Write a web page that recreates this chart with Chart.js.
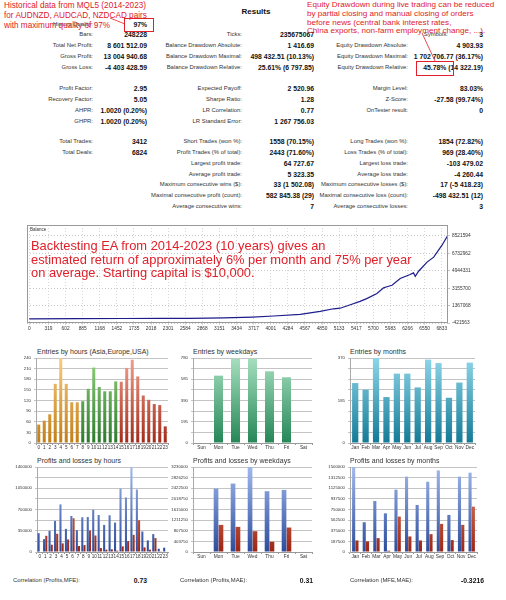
<!DOCTYPE html>
<html>
<head>
<meta charset="utf-8">
<script src="https://cdn.jsdelivr.net/npm/chart.js@4.4.0/dist/chart.umd.min.js"></script>
<style>
  body { margin: 0; width: 506px; height: 600px; background: #fff; position: relative; overflow: hidden;
         font-family: "Liberation Sans", Arial, sans-serif; }
  .t { position: absolute; white-space: nowrap; line-height: 1; font-size: 5.9px; color: #333; }
  .r { transform: translate(-100%, -50%); }
  .l { transform: translate(0, -50%); }
  .v { font-weight: bold; color: #111; font-size: 6.8px; }
  .note { position: absolute; white-space: nowrap; color: #e0202a; font-family: Arial, "Liberation Sans", sans-serif; }
  .box { position: absolute; border: 1px solid #e0202a; }
  .ttl { position: absolute; font-size: 7px; color: #333; white-space: nowrap; }
  canvas { position: absolute; }
</style>
</head>
<body>

<div class="t v" style="left:256px;top:12px;transform:translate(-50%,-50%);font-size:8px">Results</div>
<div id="table"></div>

<!-- annotations -->
<div class="note" style="left:4px;top:1px;font-size:8.2px;line-height:10px">Historical data from MQL5 (2014-2023)<br>for AUDNZD, AUDCAD, NZDCAD pairs<br>with maximum quality of 97%</div>
<div class="box" style="left:124px;top:18px;width:28px;height:12px"></div>
<div class="note" style="left:307px;top:1px;font-size:8.1px;line-height:8.8px">Equity Drawdown during live trading can be reduced<br>by partial closing and manual closing of orders<br>before news (central bank interest rates,<br>China exports, non-farm employment change, ...).</div>
<div class="box" style="left:416px;top:61px;width:36px;height:13px"></div>
<svg style="position:absolute;left:0;top:0" width="506" height="100">
  <line x1="110" y1="18" x2="125" y2="24" stroke="#e0202a" stroke-width="0.8"/>
  <line x1="422" y1="33" x2="435" y2="61" stroke="#e0202a" stroke-width="0.8"/>
</svg>

<!-- balance -->
<canvas id="balance" width="462" height="110" style="left:27px;top:225px"></canvas>
<div class="ttl" style="left:30px;top:227px;font-size:4.5px">Balance</div>
<div class="note" style="left:31px;top:239px;font-size:12.9px;line-height:13.6px">Backtesting EA from 2014-2023 (10 years) gives an<br>estimated return of approximately 6% per month and 75% per year<br>on average. Starting capital is $10,000.</div>

<!-- entries -->
<div class="ttl" style="left:37px;top:348px">Entries by hours (Asia,Europe,USA)</div>
<canvas id="entHours" width="162" height="98" style="left:10px;top:355px"></canvas>
<div class="ttl" style="left:193px;top:348px">Entries by weekdays</div>
<canvas id="entDays" width="152" height="98" style="left:165px;top:355px"></canvas>
<div class="ttl" style="left:350px;top:348px">Entries by months</div>
<canvas id="entMonths" width="155" height="98" style="left:325px;top:355px"></canvas>

<!-- profits and losses -->
<div class="ttl" style="left:37px;top:457px">Profits and losses by hours</div>
<canvas id="plHours" width="168" height="98" style="left:5px;top:464px"></canvas>
<div class="ttl" style="left:193px;top:457px">Profits and losses by weekdays</div>
<canvas id="plDays" width="157" height="98" style="left:160px;top:464px"></canvas>
<div class="ttl" style="left:350px;top:457px">Profits and losses by months</div>
<canvas id="plMonths" width="164" height="98" style="left:318px;top:464px"></canvas>

<div class="t l" style="left:13px;top:581px">Correlation (Profits,MFE):</div>
<div class="t r v" style="left:147px;top:581px">0.73</div>
<div class="t l" style="left:180px;top:581px">Correlation (Profits,MAE):</div>
<div class="t r v" style="left:313px;top:581px">0.31</div>
<div class="t l" style="left:350px;top:581px">Correlation (MFE,MAE):</div>
<div class="t r v" style="left:484px;top:581px">-0.3216</div>

<script>
// ---------- report table ----------
const col1 = [
  ["History Quality:", "97%"], ["Bars:", "248228"], ["Total Net Profit:", "8 601 512.09"],
  ["Gross Profit:", "13 004 940.68"], ["Gross Loss:", "-4 403 428.59"],
  ["Profit Factor:", "2.95"], ["Recovery Factor:", "5.05"], ["AHPR:", "1.0020 (0.20%)"],
  ["GHPR:", "1.0020 (0.20%)"], ["Total Trades:", "3412"], ["Total Deals:", "6824"],
  null, null, null, null, null
];
const col2 = [
  null, ["Ticks:", "235675067"], ["Balance Drawdown Absolute:", "1 416.69"],
  ["Balance Drawdown Maximal:", "498 432.51 (10.13%)"], ["Balance Drawdown Relative:", "25.61% (6 797.85)"],
  ["Expected Payoff:", "2 520.96"], ["Sharpe Ratio:", "1.28"], ["LR Correlation:", "0.77"],
  ["LR Standard Error:", "1 267 756.03"], ["Short Trades (won %):", "1558 (70.15%)"],
  ["Profit Trades (% of total):", "2443 (71.60%)"], ["Largest profit trade:", "64 727.67"],
  ["Average profit trade:", "5 323.35"], ["Maximum consecutive wins ($):", "33 (1 502.08)"],
  ["Maximal consecutive profit (count):", "582 845.38 (29)"], ["Average consecutive wins:", "7"]
];
const col3 = [
  null, ["Symbols:", "3"], ["Equity Drawdown Absolute:", "4 903.93"],
  ["Equity Drawdown Maximal:", "1 702 706.77 (36.17%)"], ["Equity Drawdown Relative:", "45.78% (14 322.19)"],
  ["Margin Level:", "83.03%"], ["Z-Score:", "-27.58 (99.74%)"], ["OnTester result:", "0"],
  null, ["Long Trades (won %):", "1854 (72.82%)"], ["Loss Trades (% of total):", "969 (28.40%)"],
  ["Largest loss trade:", "-103 479.02"], ["Average loss trade:", "-4 260.44"],
  ["Maximum consecutive losses ($):", "17 (-5 418.23)"], ["Maximal consecutive loss (count):", "-498 432.51 (12)"],
  ["Average consecutive losses:", "3"]
];

const rowY = [25, 35, 46, 57, 68, 89, 99.5, 110.5, 121.5, 142, 152.5, 163.5, 174.5, 185, 196, 207];
const colX = [[93, 147], [242, 314], [408, 483]];
const table = document.getElementById("table");
[col1, col2, col3].forEach((col, c) => {
  col.forEach((cell, i) => {
    if (!cell) return;
    let lx = colX[c][0];
    if (c === 2 && i === 1) lx = 448;   // "Symbols:" sits further right in the report
    const a = document.createElement("div");
    a.className = "t r";
    a.style.left = lx + "px"; a.style.top = rowY[i] + "px";
    a.textContent = cell[0];
    const b = document.createElement("div");
    b.className = "t r v";
    b.style.left = colX[c][1] + "px"; b.style.top = rowY[i] + "px";
    b.textContent = cell[1];
    table.appendChild(a); table.appendChild(b);
  });
});

// ---------- balance data ----------
const balanceDeals  = [0, 800, 1560, 2200, 2660, 3220, 3700, 4050, 4490, 4820, 5040, 5150, 5320, 5480, 5590,
                       5760, 5870, 5925, 6010, 6145, 6310, 6365, 6395, 6450, 6590, 6700, 6835, 6937];
const balanceValues = [10000, 20000, 40000, 45000, 60000, 100000, 190000, 300000, 470000, 780000, 1040000,
                       1100000, 1450000, 1800000, 2080000, 2610000, 3190000, 3300000, 3460000, 4150000,
                       4560000, 4730000, 4380000, 4900000, 5840000, 6350000, 7550000, 8611512];
const balanceXTicks = [0, 319, 602, 885, 1168, 1452, 1735, 2018, 2301, 2584, 2868, 3151, 3434, 3717,
                       4001, 4284, 4567, 4850, 5133, 5417, 5700, 5983, 6266, 6550, 6833];
const balanceYTicks = [-421563, 1367068, 3155700, 4944331, 6732962, 8521594];

// ---------- entries ----------
const hourLabels = ["0","1","2","3","4","5","6","7","8","9","10","11","12","13","14","15","16","17","18","19","20","21","22","23"];
const hourSession = [0,0,0,0,0,0,0,0, 1,1,1,1,1,1,1, 2,2,2,2,2,2,2,2,2];  // Asia, Europe, USA
const hourEntries = [52, 63, 81, 167, 240, 167, 115, 115, 118, 153, 213, 158, 146, 146, 174, 173, 212, 235, 188, 134, 122, 110, 107, 47];
const hourEntryTicks = [0, 30, 60, 90, 120, 150, 180, 210, 240];

const dayLabels = ["Sun", "Mon", "Tue", "Wed", "Thu", "Fri", "Sat"];
const dayEntries = [0, 618, 774, 774, 658, 603, 0];
const dayEntryTicks = [0, 195, 390, 585, 780];

const monthLabels = ["Jan", "Feb", "Mar", "Apr", "May", "Jun", "Jul", "Aug", "Sep", "Oct", "Nov", "Dec"];
const monthEntries = [261, 232, 370, 200, 302, 302, 242, 363, 348, 197, 263, 350];
const monthEntryTicks = [0, 185, 370];

// ---------- profits / losses ----------
const hourProfits = [310000, 212000, 349000, 512000, 784000, 381000, 594000, 360000, 572000, 577000, 697000, 610000,
                     447000, 605000, 485000, 1046000, 899000, 1400000, 1030000, 338000, 191000, 294000, 54000, 71000];
const hourLosses  = [0, 267000, 120000, 300000, 142000, 207000, 556000, 98000, 114000, 354000, 272000, 65000,
                     38000, 44000, 22000, 93000, 180000, 283000, 523000, 76000, 38000, 229000, 11000, 0];
const hourPLTicks = [0, 350000, 700000, 1050000, 1400000];

const dayProfits = [0, 2410000, 2600000, 3230000, 2310000, 2360000, 0];
const dayLosses  = [0, 1030000, 955000, 790000, 390000, 930000, 0];
const dayPLTicks = [0, 403750, 807500, 1211250, 1615000, 2018750, 2422500, 2826250, 3230000];

const monthProfits = [1500000, 525000, 900000, 683000, 1100000, 1330000, 830000, 1240000, 1440000, 654000, 1330000, 1400000];
const monthLosses  = [204000, 187000, 245000, 23000, 625000, 274000, 204000, 315000, 496000, 210000, 479000, 800000];
const monthPLTicks = [0, 187500, 375000, 562500, 750000, 937500, 1125000, 1312500, 1500000];

Chart.defaults.font.family = '"Liberation Sans", Arial, sans-serif';
Chart.defaults.color = "#333";

function grad(top, bottom) {
  return ctx => {
    const chart = ctx.chart, a = chart.chartArea;
    if (!a) return bottom;
    const g = chart.ctx.createLinearGradient(0, a.top, 0, a.bottom);
    g.addColorStop(0, top);
    g.addColorStop(1, bottom);
    return g;
  };
}

const frame = {
  id: "frame",
  afterDraw(chart) {
    const { ctx, chartArea: a } = chart;
    ctx.save();
    ctx.strokeStyle = "#9a9a9a";
    ctx.lineWidth = 1;
    ctx.strokeRect(a.left + 0.5, a.top + 0.5, a.width - 1, a.height - 1);
    ctx.restore();
  }
};

/* ================= BALANCE ================= */
new Chart(document.getElementById("balance"), {
  type: "line",
  data: {
    datasets: [{
      data: balanceDeals.map((d, i) => ({ x: d, y: balanceValues[i] })),
      borderColor: "#1c1c8c",
      borderWidth: 1.2,
      pointRadius: 0,
      tension: 0
    }]
  },
  options: {
    responsive: false,
    animation: false,
    layout: { padding: 0 },
    plugins: { legend: { display: false }, tooltip: { enabled: false } },
    scales: {
      x: {
        type: "linear", min: -37, max: 6937,
        afterBuildTicks: s => { s.ticks = balanceXTicks.map(v => ({ value: v })); },
        afterFit: s => { s.height = 12; s.paddingLeft = 0; s.paddingRight = 0; },
        ticks: { font: { size: 4.8 }, maxRotation: 0, autoSkip: false, padding: 1, callback: v => String(v) },
        grid: { color: "#d8d8d8", tickLength: 2 },
        border: { display: false, dash: [1, 2] }
      },
      y: {
        position: "right", min: -421563, max: 9650000,
        afterBuildTicks: s => { s.ticks = balanceYTicks.map(v => ({ value: v })); },
        afterFit: s => { s.width = 41; s.paddingTop = 0; s.paddingBottom = 0; },
        ticks: { font: { size: 4.8 }, padding: 2, callback: v => String(v) },
        grid: { color: "#c8c8c8", tickLength: 2 },
        border: { display: false, dash: [1, 2] }
      }
    }
  },
  plugins: [frame]
});

/* ================= BAR CHARTS ================= */
function barChart(id, labels, datasets, ticks, cfg) {
  const max = ticks[ticks.length - 1];
  const step = max / 8;
  return new Chart(document.getElementById(id), {
    type: "bar",
    data: { labels: labels, datasets: datasets },
    options: {
      responsive: false,
      animation: false,
      layout: { padding: { top: 3, right: cfg.padRight, left: 0, bottom: 0 } },
      plugins: { legend: { display: false }, tooltip: { enabled: false } },
      datasets: { bar: { categoryPercentage: cfg.cat, barPercentage: cfg.bar } },
      scales: {
        x: {
          afterFit: s => { s.height = 10; s.paddingLeft = 0; s.paddingRight = 0; },
          ticks: { font: { size: cfg.xFont || 4.8 }, maxRotation: 0, autoSkip: false, padding: 0 },
          grid: { drawOnChartArea: false, color: "#999", tickLength: 2, offset: true },
          border: { color: "#999" }
        },
        y: {
          min: 0, max: max,
          afterBuildTicks: s => {
            s.ticks = [];
            for (let i = 0; i <= 8; i++) s.ticks.push({ value: i * step });
          },
          afterFit: s => { s.width = cfg.yWidth; s.paddingTop = 0; s.paddingBottom = 0; },
          ticks: {
            font: { size: 4.3 }, padding: 3,
            callback: v => ticks.some(t => Math.abs(t - v) < step / 100) ? String(Math.round(v)) : ""
          },
          grid: { color: "#c4c4c4", tickLength: 2 },
          border: { color: "#aaa" }
        }
      }
    }
  });
}

const sessionColors = [["#f8cc80", "#c27e14"], ["#92d27e", "#2a7a2a"], ["#f2a08c", "#a42a1a"]];
const sessionGrads = sessionColors.map(c => grad(c[0], c[1]));

barChart("entHours", hourLabels, [{
  data: hourEntries,
  backgroundColor: ctx => sessionGrads[hourSession[ctx.dataIndex]](ctx)
}], hourEntryTicks, { padRight: 4, yWidth: 26, cat: 1, bar: 0.55, xFont: 4.6 });

barChart("entDays", dayLabels, [{
  data: dayEntries, backgroundColor: grad("#a6dfbf", "#248656")
}], dayEntryTicks, { padRight: 5, yWidth: 28, cat: 1, bar: 0.53 });

barChart("entMonths", monthLabels, [{
  data: monthEntries, backgroundColor: grad("#8ed6e8", "#137a96")
}], monthEntryTicks, { padRight: 5, yWidth: 25, cat: 1, bar: 0.6 });

const blueGrad = grad("#a0b8ec", "#2c4c9c");
const redGrad = grad("#ec9474", "#9c2414");

barChart("plHours", hourLabels, [
  { data: hourProfits, backgroundColor: blueGrad },
  { data: hourLosses, backgroundColor: redGrad }
], hourPLTicks, { padRight: 5, yWidth: 32, cat: 0.8, bar: 0.95, xFont: 4.6 });

barChart("plDays", dayLabels, [
  { data: dayProfits, backgroundColor: blueGrad },
  { data: dayLosses, backgroundColor: redGrad }
], dayPLTicks, { padRight: 5, yWidth: 33, cat: 0.58, bar: 0.95 });

barChart("plMonths", monthLabels, [
  { data: monthProfits, backgroundColor: blueGrad },
  { data: monthLosses, backgroundColor: redGrad }
], monthPLTicks, { padRight: 5, yWidth: 32, cat: 0.62, bar: 0.95 });
</script>
</body>
</html>
